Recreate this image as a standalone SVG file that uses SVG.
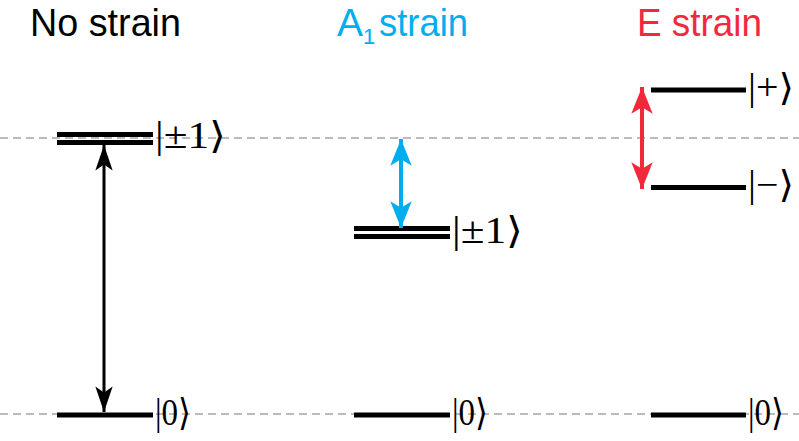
<svg xmlns="http://www.w3.org/2000/svg" width="799" height="441" viewBox="0 0 799 441">
<style>
.ref{stroke:#bbbbbb;stroke-width:2;stroke-dasharray:8 5;fill:none}
.lvl{stroke:#000;stroke-width:5;fill:none}
.ket{font-family:"Liberation Serif","DejaVu Serif",serif;font-size:37px;fill:#000}
.title{font-family:"Liberation Sans",Arial,sans-serif;font-size:39px}
</style>
<defs>
<marker id="hk" markerUnits="userSpaceOnUse" markerWidth="30" markerHeight="30" viewBox="-24 -10 26 20" refX="0" refY="0" orient="auto-start-reverse"><path d="M0,0 L-22,-7.5 L-17,0 L-22,7.5 Z" fill="#000"/></marker>
<marker id="hb" markerUnits="userSpaceOnUse" markerWidth="30" markerHeight="30" viewBox="-26 -11 28 22" refX="0" refY="0" orient="auto-start-reverse"><path d="M0,0 L-25,-10 L-19,0 L-25,10 Z" fill="#00aeef"/></marker>
<marker id="hr" markerUnits="userSpaceOnUse" markerWidth="30" markerHeight="30" viewBox="-26 -11 28 22" refX="0" refY="0" orient="auto-start-reverse"><path d="M0,0 L-25,-10 L-19,0 L-25,10 Z" fill="#f2293d"/></marker>
</defs>
<g id="reference-lines">
<line class="ref" x1="0" y1="138" x2="799" y2="138"/>
<line class="ref" x1="0" y1="414" x2="799" y2="414"/>
</g>
<g id="titles">
<text class="title" x="30" y="36" textLength="151" lengthAdjust="spacingAndGlyphs" fill="#000">No strain</text>
<text class="title" x="337" y="36" fill="#00aeef" textLength="26" lengthAdjust="spacingAndGlyphs">A</text>
<text x="363" y="44" font-family="Liberation Sans,Arial,sans-serif" font-size="22" fill="#00aeef">1</text>
<text class="title" x="379" y="36" textLength="89" lengthAdjust="spacingAndGlyphs" fill="#00aeef">strain</text>
<text class="title" x="637" y="36" textLength="125" lengthAdjust="spacingAndGlyphs" fill="#f2293d">E strain</text>
</g>
<g id="nostrain-pm1">
<line class="lvl" x1="57" y1="134.5" x2="153" y2="134.5"/>
<line class="lvl" x1="57" y1="142.5" x2="153" y2="142.5"/>
<text class="ket" x="155" y="148" textLength="71" lengthAdjust="spacingAndGlyphs">|±1⟩</text>
</g>
<g id="nostrain-0">
<line class="lvl" x1="57" y1="415" x2="153" y2="415"/>
<text class="ket" x="155" y="425" textLength="36" lengthAdjust="spacingAndGlyphs">|0⟩</text>
</g>
<g id="a1-pm1">
<line class="lvl" x1="354" y1="228.5" x2="450" y2="228.5"/>
<line class="lvl" x1="354" y1="236.5" x2="450" y2="236.5"/>
<text class="ket" x="452" y="243" textLength="71" lengthAdjust="spacingAndGlyphs">|±1⟩</text>
</g>
<g id="a1-0">
<line class="lvl" x1="354" y1="415" x2="450" y2="415"/>
<text class="ket" x="452" y="425" textLength="36" lengthAdjust="spacingAndGlyphs">|0⟩</text>
</g>
<g id="e-plus">
<line class="lvl" x1="651" y1="90" x2="746" y2="90"/>
<text class="ket" x="748" y="100" textLength="46" lengthAdjust="spacingAndGlyphs">|+⟩</text>
</g>
<g id="e-minus">
<line class="lvl" x1="651" y1="187.5" x2="746" y2="187.5"/>
<text class="ket" x="748" y="197" textLength="46" lengthAdjust="spacingAndGlyphs">|−⟩</text>
</g>
<g id="e-0">
<line class="lvl" x1="651" y1="415" x2="746" y2="415"/>
<text class="ket" x="748" y="425" textLength="36" lengthAdjust="spacingAndGlyphs">|0⟩</text>
</g>
<g id="connectors">
<line x1="104" y1="145" x2="104" y2="412" stroke="#000" stroke-width="3" marker-start="url(#hk)" marker-end="url(#hk)"/>
<line x1="401" y1="139" x2="401" y2="228" stroke="#00aeef" stroke-width="4" marker-start="url(#hb)" marker-end="url(#hb)"/>
<line x1="642" y1="87" x2="642" y2="189" stroke="#f2293d" stroke-width="4" marker-start="url(#hr)" marker-end="url(#hr)"/>
</g>
</svg>
